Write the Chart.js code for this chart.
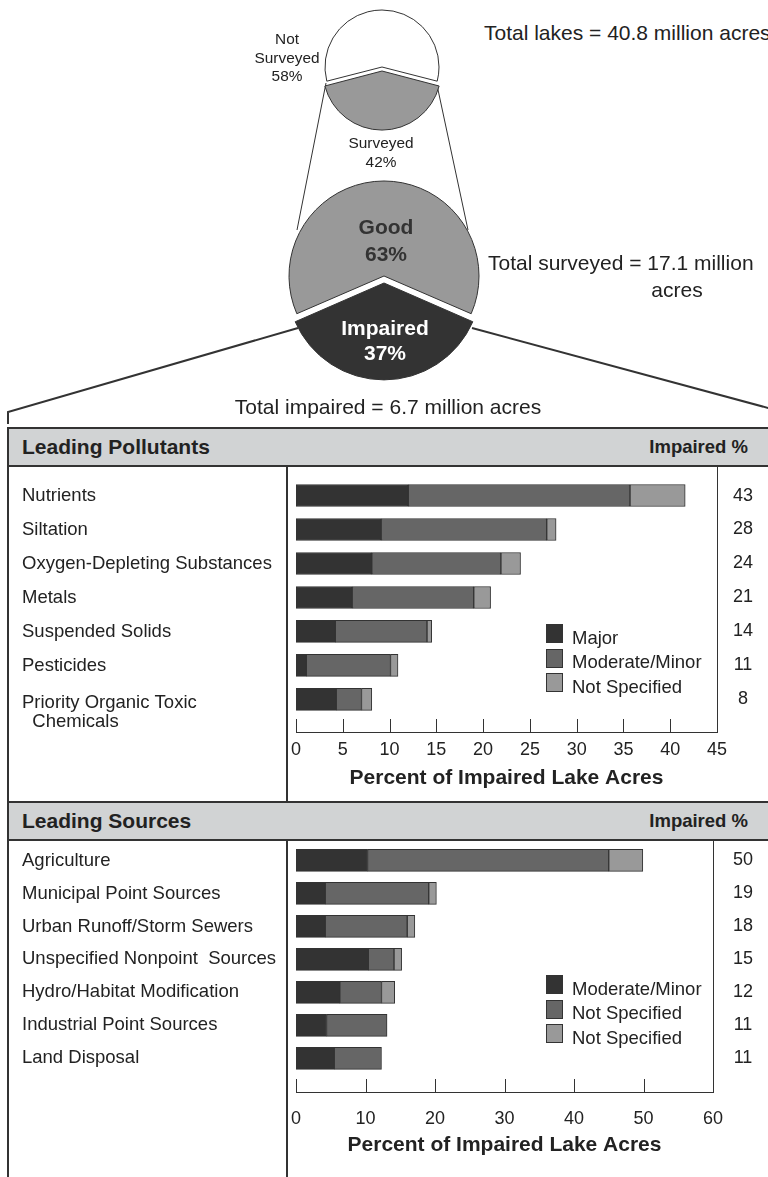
<!DOCTYPE html>
<html lang="en">
<head>
<meta charset="UTF-8">
<title>Lake impairment</title>
<script src="https://cdn.jsdelivr.net/npm/chart.js"></script>
<style>
  body { margin: 0; background: #fff; }
  .page { position: relative; width: 768px; height: 1177px; overflow: hidden; background: #fff;
          font-family: "Liberation Sans", Arial, Helvetica, sans-serif; color: #222; }
  .abs { position: absolute; white-space: nowrap; }
  .small { font-size: 15.4px; line-height: 18.5px; text-align: center; width: 100px; }
  .big { font-size: 21px; line-height: 24px; }
  .pieBold { font-size: 21px; font-weight: bold; text-align: center; width: 120px; }
  .header { position: absolute; left: 7px; width: 790px; height: 40px; box-sizing: border-box;
            background: #d1d3d4; border: 2px solid #333; }
  .header .title { position: absolute; left: 13px; top: 0; line-height: 36px; font-size: 21px; font-weight: bold; }
  .header .imp { position: absolute; left: 0; top: 0; width: 739px; text-align: right; line-height: 36px;
                 font-size: 18.5px; font-weight: bold; }
  .vline { position: absolute; width: 2px; background: #333; }
  .legend { position: absolute; font-size: 18.5px; }
  .legend .row { position: relative; height: 24.5px; }
  .legend .sw { position: absolute; left: 0; top: 0; width: 17px; height: 19px; box-sizing: border-box; border: 1px solid #333; }
  .legend .tx { position: absolute; left: 26px; top: 3.5px; line-height: 19px; white-space: nowrap; }
  canvas { position: absolute; }
</style>
</head>
<body>
<div class="page">

  <!-- frame of the lower panel -->
  <div class="vline" style="left:7px; top:427px; height:750px;"></div>
  <div class="vline" style="left:286px; top:467px; height:335px;"></div>
  <div class="vline" style="left:286px; top:840px; height:337px;"></div>
  <div class="header" style="top:427px;"><span class="title">Leading Pollutants</span><span class="imp">Impaired %</span></div>
  <div class="header" style="top:801px;"><span class="title">Leading Sources</span><span class="imp">Impaired %</span></div>

  <!-- connector lines -->
  <svg class="abs" width="768" height="440" style="left:0; top:0;">
    <line x1="326" y1="83" x2="297" y2="230" stroke="#333" stroke-width="1"/>
    <line x1="437" y1="85" x2="468" y2="230" stroke="#333" stroke-width="1"/>
    <polyline points="298,328 8,412 8,424" fill="none" stroke="#333" stroke-width="2"/>
    <line x1="472" y1="328" x2="772" y2="409" stroke="#333" stroke-width="2"/>
  </svg>

  <canvas id="lakePie" width="140" height="140" style="left:312px; top:-3px;"></canvas>
  <canvas id="surveyPie" width="240" height="240" style="left:264px; top:156px;"></canvas>

  <div id="lblNot" class="abs small" style="left:237px; top:30px;"></div>
  <div id="lblSurveyed" class="abs small" style="left:331px; top:134px;"></div>
  <div id="lblGood" class="abs pieBold" style="left:326px; top:212.5px; line-height:27px; color:#333;"></div>
  <div id="lblImpaired" class="abs pieBold" style="left:325px; top:314.5px; line-height:25px; color:#fff;"></div>

  <div id="txtLakes" class="abs big" style="left:484px; top:21px;"></div>
  <div id="txtSurveyed" class="abs big" style="left:488px; top:251px;"></div>
  <div class="abs big" style="left:627px; top:278px; width:100px; text-align:center;">acres</div>
  <div id="txtImpaired" class="abs big" style="left:188px; top:395px; width:400px; text-align:center;"></div>

  <canvas id="pollChart" width="768" height="333" style="left:0; top:467px;"></canvas>
  <canvas id="srcChart" width="768" height="337" style="left:0; top:840px;"></canvas>

  <div id="pollLegend" class="legend" style="left:546px; top:624px;"></div>
  <div id="srcLegend" class="legend" style="left:546px; top:975px;"></div>
</div>

<script>
// lake totals (million acres) and pie shares (%)
const totalLakes = 40.8;
const totalSurveyed = 17.1;
const totalImpaired = 6.7;
const lakeLabels = ['Not Surveyed', 'Surveyed'];
const lakeShares = [58, 42];
const surveyLabels = ['Good', 'Impaired'];
const surveyShares = [63, 37];

// leading pollutants (percent of impaired lake acres)
const pollutants = ['Nutrients', 'Siltation', 'Oxygen-Depleting Substances', 'Metals', 'Suspended Solids',
                    'Pesticides', ['Priority Organic Toxic', '  Chemicals']];
const pollMajor    = [12.0, 9.1, 8.1, 6.0, 4.2, 1.1, 4.3];
const pollModerate = [23.7, 17.7, 13.8, 13.0, 9.8, 9.0, 2.7];
const pollNotSpec  = [5.9, 1.0, 2.1, 1.8, 0.5, 0.8, 1.1];
const pollImpaired = [43, 28, 24, 21, 14, 11, 8];
const pollSeries   = ['Major', 'Moderate/Minor', 'Not Specified'];
const pollTicks    = [0, 5, 10, 15, 20, 25, 30, 35, 40, 45];

// leading sources
const sources = ['Agriculture', 'Municipal Point Sources', 'Urban Runoff/Storm Sewers',
                 'Unspecified Nonpoint  Sources', 'Hydro/Habitat Modification',
                 'Industrial Point Sources', 'Land Disposal'];
const srcMajor    = [10.3, 4.2, 4.2, 10.4, 6.3, 4.4, 5.5];
const srcModerate = [34.7, 14.9, 11.8, 3.7, 6.0, 8.7, 6.8];
const srcNotSpec  = [4.9, 1.1, 1.1, 1.1, 1.9, 0, 0];
const srcImpaired = [50, 19, 18, 15, 12, 11, 11];
const srcSeries   = ['Moderate/Minor', 'Not Specified', 'Not Specified'];
const srcTicks    = [0, 10, 20, 30, 40, 50, 60];

const fontFamily = '"Liberation Sans", Arial, Helvetica, sans-serif';
const barColors = ['#333333', '#666666', '#999999'];

Chart.defaults.font.family = fontFamily;
Chart.defaults.color = '#222';
Chart.defaults.animation = false;
Chart.defaults.plugins.legend.display = false;
Chart.defaults.plugins.tooltip.enabled = false;

// text
document.getElementById('txtLakes').textContent = 'Total lakes = ' + totalLakes + ' million acres';
document.getElementById('txtSurveyed').textContent = 'Total surveyed = ' + totalSurveyed + ' million';
document.getElementById('txtImpaired').textContent = 'Total impaired = ' + totalImpaired + ' million acres';
document.getElementById('lblNot').innerHTML = lakeLabels[0].replace(' ', '<br>') + '<br>' + lakeShares[0] + '%';
document.getElementById('lblSurveyed').innerHTML = lakeLabels[1] + '<br>' + lakeShares[1] + '%';
document.getElementById('lblGood').innerHTML = surveyLabels[0] + '<br>' + surveyShares[0] + '%';
document.getElementById('lblImpaired').innerHTML = surveyLabels[1] + '<br>' + surveyShares[1] + '%';

function pieChart(id, labels, values, colors, offsets, radius) {
  const total = values.reduce((a, b) => a + b, 0);
  return new Chart(document.getElementById(id), {
    type: 'pie',
    data: {
      labels: labels,
      datasets: [{ data: values, backgroundColor: colors, borderColor: '#333', borderWidth: 1, offset: offsets }]
    },
    options: {
      responsive: false,
      events: [],
      radius: radius,
      rotation: -values[0] / total * 180
    }
  });
}

pieChart('lakePie', lakeLabels, lakeShares, ['#ffffff', '#999999'], [0, 16], 57);
pieChart('surveyPie', surveyLabels, surveyShares, ['#999999', '#333333'], [0, 28], 95);

// inward tick marks on the x axis
const innerTicks = {
  id: 'innerTicks',
  afterDraw(chart, args, opts) {
    const { ctx, chartArea } = chart;
    const xs = chart.scales.x;
    ctx.save();
    ctx.strokeStyle = '#333';
    ctx.lineWidth = 1;
    xs.ticks.forEach(t => {
      if (t.value >= xs.max) return;
      const px = Math.round(xs.getPixelForValue(t.value)) + 0.5;
      ctx.beginPath();
      ctx.moveTo(px, chartArea.bottom);
      ctx.lineTo(px, chartArea.bottom - opts.length);
      ctx.stroke();
    });
    ctx.restore();
  }
};

function rowTicks(cats) {
  return function (scale) {
    const ticks = [];
    cats.forEach((c, i) => {
      const lines = Array.isArray(c) ? c : [c];
      lines.forEach((t, j) => ticks.push({ value: i + (lines.length > 1 ? 0.1 : 0) + j * 0.55, text: t }));
    });
    scale.ticks = ticks;
  };
}

// fixed box size, no label overflow margins
function fixWidth(w) {
  return function (s) {
    s.width = w;
    s.paddingTop = 0;
    s.paddingBottom = 0;
  };
}

function barChart(id, cats, major, moderate, notSpec, impaired, names, xTicks, cfg) {
  const series = [major, moderate, notSpec];
  return new Chart(document.getElementById(id), {
    type: 'bar',
    data: {
      datasets: series.map((vals, k) => ({
        label: names[k],
        data: vals.map((v, i) => ({ x: v, y: i })),
        backgroundColor: barColors[k],
        borderColor: '#333',
        borderWidth: 1,
        borderSkipped: false,
        barThickness: 22
      }))
    },
    options: {
      indexAxis: 'y',
      responsive: false,
      events: [],
      layout: { padding: { left: 22, right: 0, top: 0, bottom: 0 } },
      scales: {
        x: {
          type: 'linear',
          position: 'bottom',
          stacked: true,
          min: 0,
          max: xTicks[xTicks.length - 1],
          grid: { display: false, drawTicks: false },
          border: { display: true, color: '#333', width: 1 },
          ticks: { padding: cfg.tickPad, font: { size: 18 }, color: '#222', maxRotation: 0, autoSkip: false },
          afterBuildTicks: s => { s.ticks = xTicks.map(v => ({ value: v })); },
          title: {
            display: true,
            text: 'Percent of Impaired Lake Acres',
            color: '#222',
            font: { size: 21, weight: 'bold' },
            padding: { top: 0, bottom: cfg.titlePad }
          },
          afterFit: s => { s.height = cfg.xHeight; }
        },
        y: {
          type: 'linear',
          position: 'left',
          stacked: true,
          reverse: true,
          offset: false,
          min: cfg.yMin,
          max: cfg.yMax,
          grid: { display: false, drawTicks: false },
          border: { display: false },
          ticks: {
            crossAlign: 'far',
            autoSkip: false,
            font: { size: 18.5 },
            color: '#222',
            callback: (v, i, ticks) => ticks[i].text
          },
          afterBuildTicks: rowTicks(cats),
          afterFit: fixWidth(274)
        },
        y2: {
          type: 'linear',
          position: 'right',
          reverse: true,
          offset: false,
          min: cfg.yMin,
          max: cfg.yMax,
          grid: { display: false, drawTicks: false },
          border: { display: true, color: '#333', width: 1 },
          ticks: {
            crossAlign: 'center',
            padding: cfg.rightPad,
            autoSkip: false,
            font: { size: 18 },
            color: '#222',
            callback: (v, i, ticks) => ticks[i].text
          },
          afterBuildTicks: s => { s.ticks = impaired.map((v, i) => ({ value: i, text: String(v) })); },
          afterFit: fixWidth(cfg.rightWidth)
        }
      },
      plugins: { innerTicks: { length: 13 } }
    },
    plugins: [innerTicks]
  });
}

function makeLegend(chart, elId) {
  const el = document.getElementById(elId);
  chart.data.datasets.forEach(ds => {
    const row = document.createElement('div');
    row.className = 'row';
    row.innerHTML = '<span class="sw" style="background:' + ds.backgroundColor + '"></span><span class="tx"></span>';
    row.querySelector('.tx').textContent = ds.label;
    el.appendChild(row);
  });
}

const pollChart = barChart('pollChart', pollutants, pollMajor, pollModerate, pollNotSpec, pollImpaired,
  pollSeries, pollTicks,
  { yMin: -0.84, yMax: 6.96, xHeight: 68, tickPad: 7, titlePad: 9, rightWidth: 51, rightPad: 16 });

const srcChart = barChart('srcChart', sources, srcMajor, srcModerate, srcNotSpec, srcImpaired,
  srcSeries, srcTicks,
  { yMin: -0.62, yMax: 7.02, xHeight: 85, tickPad: 16, titlePad: 19, rightWidth: 55, rightPad: 20 });

makeLegend(pollChart, 'pollLegend');
makeLegend(srcChart, 'srcLegend');
</script>
</body>
</html>
